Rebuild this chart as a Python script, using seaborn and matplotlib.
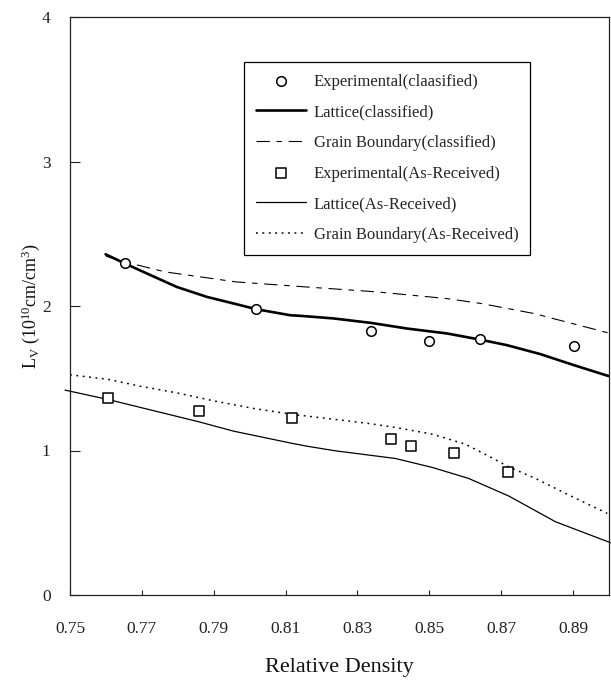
import matplotlib
matplotlib.use("Agg")
import matplotlib.pyplot as plt
import seaborn as sns
import numpy as np

# ---- data ----
exp_cls_x = [0.7653, 0.8018, 0.8338, 0.8500, 0.8640, 0.8902]
exp_cls_y = [2.301, 1.978, 1.826, 1.759, 1.772, 1.722]

lat_cls_x = [0.7599, 0.7653, 0.7714, 0.7797, 0.7881, 0.7964, 0.8018, 0.8113, 0.8141,
             0.8233, 0.8338, 0.8438, 0.8549, 0.8640, 0.8716, 0.8809, 0.8902, 0.8999]
lat_cls_y = [2.358, 2.294, 2.225, 2.132, 2.063, 2.012, 1.978, 1.936, 1.932,
             1.914, 1.883, 1.844, 1.810, 1.768, 1.729, 1.667, 1.591, 1.515]

gb_cls_x = [0.7600, 0.7653, 0.7765, 0.7961, 0.8156, 0.8352, 0.8547, 0.8645, 0.8791, 0.9004]
gb_cls_y = [2.345, 2.305, 2.236, 2.167, 2.132, 2.098, 2.052, 2.017, 1.948, 1.810]

exp_ar_x = [0.7607, 0.7858, 0.8119, 0.8393, 0.8450, 0.8570, 0.8720]
exp_ar_y = [1.360, 1.275, 1.226, 1.077, 1.030, 0.980, 0.849]

lat_ar_x = [0.7486, 0.7606, 0.7858, 0.7955, 0.8119, 0.8159, 0.8238, 0.8405, 0.8508,
            0.8609, 0.8721, 0.8851, 0.9004]
lat_ar_y = [1.418, 1.353, 1.199, 1.134, 1.049, 1.030, 0.998, 0.945, 0.883,
            0.807, 0.685, 0.507, 0.362]

gb_ar_x = [0.7500, 0.7607, 0.7695, 0.7797, 0.7899, 0.8011, 0.8119, 0.8238, 0.8331,
           0.8405, 0.8508, 0.8600, 0.8665, 0.8721, 0.8795, 0.8888, 0.8995]
gb_ar_y = [1.524, 1.492, 1.445, 1.399, 1.344, 1.291, 1.250, 1.215, 1.187,
           1.160, 1.113, 1.044, 0.961, 0.887, 0.807, 0.692, 0.565]

x_ticks = [0.75, 0.77, 0.79, 0.81, 0.83, 0.85, 0.87, 0.89]
y_ticks = [0, 1, 2, 3, 4]

labels = ["Experimental(claasified)", "Lattice(classified)", "Grain Boundary(classified)",
          "Experimental(As-Received)", "Lattice(As-Received)", "Grain Boundary(As-Received)"]

# ---- style ----
sns.set_theme(style="ticks")
plt.rcParams["font.family"] = ["Liberation Serif", "DejaVu Serif"]
plt.rcParams["mathtext.default"] = "regular"

fig = plt.figure(figsize=(6.11, 6.8), dpi=100)
ax = fig.add_axes([70 / 611, 1 - 595 / 680, 539 / 611, 578 / 680])

h = {}
sns.lineplot(x=lat_cls_x, y=lat_cls_y, ax=ax, color="black", linewidth=1.9,
             sort=False, label=labels[1], estimator=None)
h[1] = ax.lines[-1]
sns.lineplot(x=gb_cls_x, y=gb_cls_y, ax=ax, color="black", linewidth=0.8,
             sort=False, label=labels[2], estimator=None)
h[2] = ax.lines[-1]
h[2].set_dashes([12, 6, 5, 6])
sns.lineplot(x=lat_ar_x, y=lat_ar_y, ax=ax, color="black", linewidth=0.9,
             sort=False, label=labels[4], estimator=None)
h[4] = ax.lines[-1]
h[4].set_clip_on(False)
sns.lineplot(x=gb_ar_x, y=gb_ar_y, ax=ax, color="black", linewidth=1.1,
             sort=False, label=labels[5], estimator=None)
h[5] = ax.lines[-1]
h[5].set_dashes([1.2, 3.0])

sns.scatterplot(x=exp_cls_x, y=exp_cls_y, ax=ax, marker="o", s=48,
                facecolor="white", edgecolor="black", linewidth=1.1,
                label=labels[0], zorder=5)
h[0] = ax.collections[-1]
sns.scatterplot(x=exp_ar_x, y=exp_ar_y, ax=ax, marker="s", s=44,
                facecolor="white", edgecolor="black", linewidth=1.1,
                label=labels[3], zorder=5)
h[3] = ax.collections[-1]

ax.set_xlim(0.75, 0.90)
ax.set_ylim(0, 4)
ax.set_xticks(x_ticks)
ax.set_xticklabels([f"{v:.2f}" for v in x_ticks])
ax.set_yticks(y_ticks)
ax.set_yticklabels([str(v) for v in y_ticks])

ax.tick_params(axis="x", direction="in", length=3.6, width=0.8, pad=19,
               labelsize=12.5, colors="#222222", top=False)
ax.tick_params(axis="y", direction="in", length=7, width=0.8, pad=14,
               labelsize=12.5, colors="#222222", right=False)
for s in ax.spines.values():
    s.set_visible(True)
    s.set_linewidth(0.9)
    s.set_color("#222222")

ax.set_xlabel("Relative Density", fontsize=16, labelpad=15, color="#111111")
ax.set_ylabel(r"L$_{V}$ (10$^{10}$cm/cm$^{3}$)", fontsize=13, labelpad=0, color="#111111")

leg = ax.legend([h[i] for i in range(6)], labels, loc="upper left",
                bbox_to_anchor=((244 - 70) / 539, (595 - 62) / 578),
                borderaxespad=0, fontsize=12, frameon=True, fancybox=False,
                framealpha=1, edgecolor="black", handlelength=3.0,
                handletextpad=0.5, labelspacing=0.88, borderpad=0.7)
leg.get_frame().set_linewidth(0.9)

fig.savefig("out.png", dpi=100)
